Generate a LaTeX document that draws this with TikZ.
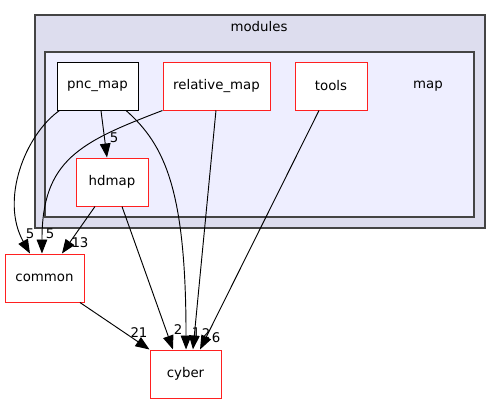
\documentclass[tikz,border=0pt]{standalone}
\usepackage{fontspec}
\setmainfont{DejaVu Sans}
\usetikzlibrary{arrows.meta}

\definecolor{outerfill}{HTML}{DDDDEE}
\definecolor{innerfill}{HTML}{EEEEFF}
\definecolor{framegray}{HTML}{444444}
\definecolor{dirred}{HTML}{FF2020}

\tikzset{
    dirbox/.style={draw=dirred, fill=white, line width=0.75pt, minimum height=36pt, inner sep=0pt, font=\fontsize{10}{12}\selectfont},
    dirplain/.style={dirbox, draw=black},
    lbl/.style={inner sep=0pt, font=\fontsize{10}{12}\selectfont},
    dep/.style={->, line width=0.7pt}
}

\begin{document}
\begin{tikzpicture}[x=0.75pt, y=-0.75pt, >={Triangle[length=10.5pt, width=8pt]}]
    \useasboundingbox (0,0) rectangle (501,404);

    % Clusters
    \draw[framegray, fill=outerfill, line width=0.8pt] (35,15) rectangle (485,228);
    \node[lbl] (modules) at (259,27) {modules};
    \draw[framegray, fill=innerfill, line width=0.8pt] (45,52) rectangle (474,217);
    \node[lbl] (map) at (428,86) {map};

    % Directories
    \node[dirplain, minimum width=60.75pt] (pnc_map) at (97.5,86) {pnc\_map};
    \node[dirbox, minimum width=80.25pt] (relative_map) at (216.5,86) {relative\_map};
    \node[dirbox, minimum width=54pt] (tools) at (331,86) {tools};
    \node[dirbox, minimum width=54pt] (hdmap) at (112,182) {hdmap};
    \node[dirbox, minimum width=59.25pt] (common) at (44.5,278) {common};
    \node[dirbox, minimum width=53.25pt] (cyber) at (185.5,374) {cyber};

    % Dependencies
    \draw[dep] ([xshift=2.25pt]pnc_map.south west) .. controls (25,135) and (0,200) .. ([xshift=-10.9pt]common.north)
        node[lbl, at={(30,234)}] {5};
    \draw[dep] ([xshift=2.6pt]pnc_map.south) -- ([xshift=-3.75pt]hdmap.north)
        node[lbl, at={(114,138)}] {5};
    \draw[dep] ([xshift=21.4pt]pnc_map.south) .. controls (165,145) and (186,190) .. ([xshift=0.4pt]cyber.north)
        node[lbl, at={(196,333)}] {1};
    \draw[dep] (relative_map.south west) .. controls (80,142) and (42,160) .. ([xshift=-1.9pt]common.north)
        node[lbl, at={(50,234)}] {5};
    \draw[dep] ([xshift=-0.4pt]relative_map.south) -- ([xshift=5.6pt]cyber.north)
        node[lbl, at={(206,334)}] {2};
    \draw[dep] ([xshift=-9pt]tools.south) -- ([xshift=10.9pt]cyber.north)
        node[lbl, at={(216,338)}] {6};
    \draw[dep] ([xshift=-12.75pt]hdmap.south) -- ([xshift=13.1pt]common.north)
        node[lbl, at={(80,243)}] {13};
    \draw[dep] ([xshift=7.5pt]hdmap.south) -- ([xshift=-9.4pt]cyber.north)
        node[lbl, at={(178,330)}] {2};
    \draw[dep] ([xshift=26.6pt]common.south) -- (cyber.north west)
        node[lbl, at={(139,333)}] {21};

\end{tikzpicture}
\end{document}
